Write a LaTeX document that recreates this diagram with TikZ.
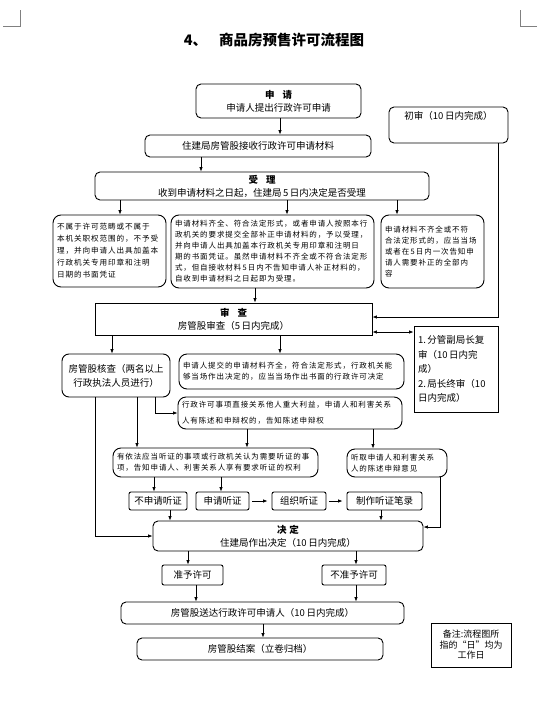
\documentclass[tikz,border=0pt]{standalone}
\usepackage{fontspec}
\setmainfont{Noto Sans CJK SC}
\newfontfamily\cjksp[LetterSpace=12]{Noto Sans CJK SC}
\usetikzlibrary{arrows.meta}

\tikzset{
  box/.style={draw, rounded corners=5pt, line width=0.9pt, inner sep=2pt, align=center, font=\fontsize{9.5}{13}\selectfont},
  sqbox/.style={draw, line width=0.9pt, inner sep=2pt, align=center, font=\fontsize{9.5}{13}\selectfont},
  tagbox/.style={box, rounded corners=2pt, minimum height=18pt},
  smallbox/.style={draw, rounded corners=8pt, line width=0.9pt, inner sep=3pt, align=left, font={\cjksp\fontsize{7.5}{11}\selectfont}},
  arr/.style={-{Latex[length=4.5pt,width=3.5pt]}, line width=0.7pt},
  dblarr/.style={{Latex[length=4.5pt,width=3.5pt]}-{Latex[length=4.5pt,width=3.5pt]}, line width=0.7pt},
}

\begin{document}
\begin{tikzpicture}[x=1pt, y=-1pt]
\fill[white] (0,0) rectangle (540,704);
\useasboundingbox (0,0) rectangle (540,704);

% page corners
\draw[line width=0.5pt, gray] (3,26) -- (20,26) -- (20,10);
\draw[line width=0.5pt, gray] (537,26) -- (520,26) -- (520,10);

\node[font=\fontsize{14.5}{18}\selectfont\bfseries] (title) at (274,40) {4、\hspace{12pt}商品房预售许可流程图};

% application and acceptance
\node[box, minimum width=165, minimum height=34] (apply) at (278.5,101) {{\bfseries 申\hspace{8pt}请}\\申请人提出行政许可申请};
\node[box, minimum width=119, minimum height=36, label={[anchor=north, inner sep=5pt, font=\fontsize{9.5}{13}\selectfont]90:初审（10\,日内完成）}] (chushen) at (448.5,125) {};
\node[box, minimum width=226, minimum height=22] (receive) at (258,146) {住建局房管股接收行政许可申请材料};
\node[box, minimum width=334, minimum height=28] (accept) at (262,186) {{\bfseries 受\hspace{8pt}理}\\收到申请材料之日起，住建局\,5\,日内决定是否受理};

\node[smallbox, minimum width=113, minimum height=72, text width=105, font={\cjksp\fontsize{7.6}{12}\selectfont}] (reject) at (109.5,251) {不属于许可范畴或不属于\\本机关职权范围的，不予受\\理，并向申请人出具加盖本\\行政机关专用印章和注明\\日期的书面凭证};
\node[smallbox, minimum width=203, minimum height=73, text width=195] (ok) at (272.5,251.5) {申请材料齐全、符合法定形式，或者申请人按照本行\\政机关的要求提交全部补正申请材料的，予以受理，\\并向申请人出具加盖本行政机关专用印章和注明日\\期的书面凭证。虽然申请材料不齐全或不符合法定形\\式，但自接收材料\,5\,日内不告知申请人补正材料的，\\自收到申请材料之日起即为受理。};
\node[smallbox, minimum width=103, minimum height=73, text width=95] (supply) at (432.5,251.5) {申请材料不齐全或不符\\合法定形式的，应当当场\\或者在\,5\,日内一次告知申\\请人需要补正的全部内\\容};

% review
\node[sqbox, minimum width=277, minimum height=32] (review) at (233.5,319) {{\bfseries 审\hspace{8pt}查}\\房管股审查（5\,日内完成）};
\node[sqbox, minimum width=84, minimum height=86, text width=76, align=left, font=\fontsize{9.5}{14.5}\selectfont] (leader) at (456,369) {1.\,分管副局长复\\审（10\,日内完\\成）\\2.\,局长终审（10\\日内完成）};
\node[box, rounded corners=7pt, minimum width=108, minimum height=43, font=\fontsize{9.5}{14}\selectfont] (check) at (116,375.5) {房管股核查（两名以上\\行政执法人员进行）};
\node[smallbox, minimum width=225, minimum height=35, text width=217] (onsite) at (291.5,371.5) {申请人提交的申请材料齐全，符合法定形式，行政机关能\\够当场作出决定的，应当当场作出书面的行政许可决定};
\node[smallbox, minimum width=224, minimum height=32, text width=216] (notify) at (290,413) {行政许可事项直接关系他人重大利益，申请人和利害关系\\[5pt]人有陈述和申辩权的，告知陈述申辩权};

% hearing
\node[smallbox, minimum width=205, minimum height=29, text width=197] (hearing) at (215.5,462.5) {有依法应当听证的事项或行政机关认为需要听证的事\\项，告知申请人、利害关系人享有要求听证的权利};
\node[smallbox, minimum width=100, minimum height=28, text width=92] (listen) at (397,463) {听取申请人和利害关系\\人的陈述申辩意见};
\node[tagbox, minimum width=58] (nohear) at (158,501) {不申请听证};
\node[tagbox, minimum width=53] (askhear) at (222.5,501) {申请听证};
\node[tagbox, minimum width=54] (holdhear) at (299,501) {组织听证};
\node[tagbox, minimum width=75] (record) at (384.5,501) {制作听证笔录};

% decision
\node[box, minimum width=270, minimum height=30] (decide) at (288,536) {{\bfseries 决\hspace{3pt}定}\\住建局作出决定（10\,日内完成）};
\node[tagbox, minimum width=61, minimum height=20] (grant) at (192.5,575) {准予许可};
\node[tagbox, minimum width=64, minimum height=20] (deny) at (354,575) {不准予许可};
\node[box, minimum width=283, minimum height=22] (deliver) at (262.5,613) {房管股送达行政许可申请人（10\,日内完成）};
\node[box, minimum width=246, minimum height=22] (close) at (260,649) {房管股结案（立卷归档）};
\node[sqbox, minimum width=80, minimum height=44, font=\fontsize{9}{10.5}\selectfont] (remark) at (471,645) {备注:流程图所\\指的“日”均为\\工作日};

% connectors
\draw[arr] (apply.south -| 280,0) -- (receive.north -| 280,0);
\draw[arr] (receive.south -| 201,0) -- (accept.north -| 201,0);
\draw[arr] (accept.south -| 120,0) -- (reject.north -| 120,0);
\draw[arr] (accept.south -| 287,0) -- (ok.north -| 287,0);
\draw[arr] (accept.south -| 397,0) -- (supply.north -| 397,0);
\draw[arr] (ok.south -| 255,0) -- (review.north -| 255,0);
\draw[arr] (chushen.south -| 498,0) |- ([yshift=2pt]review.east);
\draw[dblarr] ([yshift=-13pt]review.east) -- ([yshift=-13pt]review.east -| leader.west);
\draw[arr] (review.south -| 112,0) -- (check.north -| 112,0);
\draw[arr] (review.south -| 280,0) -- (onsite.north -| 280,0);
\draw[arr] (check.south -| 155,0) |- (notify.west);
\draw[arr] (check.south -| 137,0) -- (hearing.north -| 137,0);
\draw[arr] (check.south -| 95,0) |- (decide.west);
\draw[arr] (notify.south -| 247,0) -- (hearing.north -| 247,0);
\draw[arr] (notify.south -| 373,0) -- (listen.north -| 373,0);
\draw[arr] (hearing.south -| 154,0) -- (nohear.north -| 154,0);
\draw[arr] (hearing.south -| 221,0) -- (askhear.north -| 221,0);
\draw[arr, shorten <=3pt, shorten >=4pt] (askhear.east) -- (holdhear.west);
\draw[arr, shorten <=3pt, shorten >=4pt] (holdhear.east) -- (record.west);
\draw[arr] (nohear.south -| 170,0) -- (decide.north -| 170,0);
\draw[arr] (record.south -| 381,0) -- (decide.north -| 381,0);
\draw[arr] (listen.south -| 440,0) |- ([yshift=9pt]decide.east);
\draw[arr] (decide.south -| 188,0) -- (grant.north -| 188,0);
\draw[arr] (decide.south -| 356,0) -- (deny.north -| 356,0);
\draw[arr] (grant.south -| 196,0) -- (deliver.north -| 196,0);
\draw[arr] (deny.south -| 356,0) -- (deliver.north -| 356,0);
\draw[arr] (deliver.south -| 263,0) -- (close.north -| 263,0);
\end{tikzpicture}
\end{document}
